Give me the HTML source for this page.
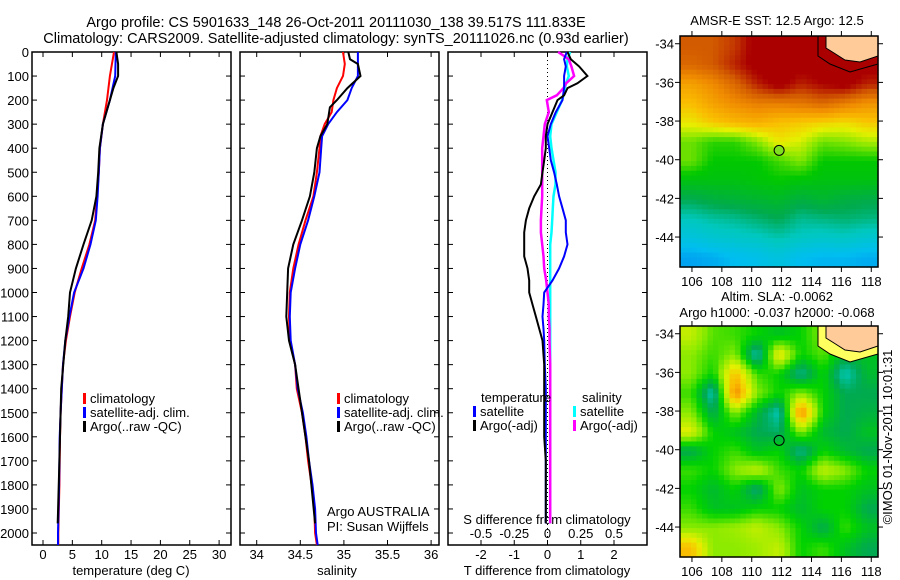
<!DOCTYPE html>
<html><head><meta charset="utf-8"><style>
body{margin:0;background:#fff;}
svg{display:block;font-family:"Liberation Sans",sans-serif;}
text{font-size:13px;fill:#000;}
</style></head><body>
<svg id="fig" width="900" height="580" viewBox="0 0 900 580" xmlns="http://www.w3.org/2000/svg">
<text x="336" y="27" text-anchor="middle" style="font-size:14.5px">Argo profile: CS 5901633_148 26-Oct-2011 20111030_138 39.517S 111.833E</text>
<text x="336" y="43" text-anchor="middle" style="font-size:14.5px">Climatology: CARS2009. Satellite-adjusted climatology: synTS_20111026.nc (0.93d earlier)</text>
<g id="g1"></g>
<g id="g2"></g>
<g id="g3"></g>
<g id="m1"></g>
<g id="m2"></g>
<text x="777" y="25" text-anchor="middle">AMSR-E SST: 12.5 Argo: 12.5</text>
<text x="777" y="301" text-anchor="middle">Altim. SLA: -0.0062</text>
<text x="777" y="317" text-anchor="middle">Argo h1000: -0.037 h2000: -0.068</text>
<text x="0" y="0" transform="translate(892,437) rotate(-90)" text-anchor="middle">©IMOS 01-Nov-2011 10:01:31</text>
</svg>
<script>
// ---- profile data ----
const depthsT = [0,100,200,300,400,500,600,700,800,900,1000,1100,1200,1300,1400,1500,1600,1800,2000,2050];
const climT   = [12.1,11.4,10.9,10.2,9.7,9.5,9.2,8.9,7.9,6.6,5.4,4.6,3.9,3.4,3.2,3.0,2.9,2.8,2.6,2.6];
const satT    = [12.4,12.3,11.4,10.2,9.7,9.5,9.3,9.0,8.1,6.9,5.3,4.5,3.8,3.4,3.2,3.0,2.85,2.75,2.55,2.55];
const depthsA = [0,50,100,150,200,300,400,500,600,700,800,900,1000,1100,1200,1400,1700,1960];
const argoT   = [12.5,12.8,12.8,12.0,11.4,10.2,9.6,9.4,9.1,8.3,6.9,5.6,4.6,4.3,3.8,3.1,2.8,2.5];
const depthsS = [0,50,100,150,200,250,300,350,400,500,600,700,800,900,1000,1100,1200,1300,1400,1500,1600,1700,1800,1900,2000,2050];
const climS   = [34.99,35.01,34.99,34.92,34.88,34.86,34.78,34.73,34.72,34.69,34.65,34.56,34.48,34.42,34.38,34.37,34.38,34.44,34.46,34.52,34.56,34.59,34.63,34.66,34.67,34.69];
const satS    = [35.16,35.16,35.16,35.09,35.04,34.92,34.82,34.75,34.74,34.72,34.66,34.59,34.50,34.44,34.39,34.38,34.39,34.44,34.47,34.53,34.57,34.60,34.64,34.67,34.68,34.70];
const depthsAS= [0,30,50,100,150,200,230,300,350,400,500,600,700,800,900,1000,1100,1200,1300,1500,1700,1960];
const argoS   = [35.05,35.07,35.16,35.19,35.04,34.92,34.84,34.81,34.73,34.69,34.66,34.61,34.52,34.42,34.36,34.35,34.34,34.37,34.44,34.52,34.60,34.67];
const depthsD = [0,30,60,100,130,150,180,200,250,300,350,400,450,500,550,600,650,700,750,800,850,900,950,1000,1050,1100,1150,1200,1300,1400,1600,1700,1900,1960];
const satDT   = [0.58,0.5,0.55,0.5,0.5,0.5,0.47,0.45,0.25,0.1,0,0.05,0.1,0.2,0.28,0.35,0.45,0.55,0.55,0.6,0.5,0.35,0.15,-0.1,-0.12,-0.15,-0.12,-0.1,-0.08,-0.05,-0.05,-0.05,-0.05,-0.05];
const argoDT  = [0.6,0.7,0.95,1.2,0.9,0.6,0.5,0.3,0.15,0,-0.05,-0.05,-0.1,-0.15,-0.2,-0.4,-0.55,-0.65,-0.7,-0.7,-0.7,-0.6,-0.55,-0.55,-0.45,-0.35,-0.25,-0.15,-0.1,-0.1,-0.1,-0.05,-0.05,-0.05];
const satDS   = [0.17,0.15,0.145,0.16,0.14,0.13,0.12,0.11,0.07,0.03,0.02,0.03,0.045,0.06,0.06,0.045,0.04,0.035,0.03,0.02,0.02,0.02,0.02,0.02,0.02,0.02,0.02,0.02,0.02,0.02,0.02,0.02,0.02,0.02];
const argoDS  = [0.08,0.16,0.18,0.2,0.14,0.12,0.07,-0.005,0.01,-0.02,-0.03,-0.04,-0.04,-0.04,-0.04,-0.04,-0.045,-0.05,-0.05,-0.04,-0.03,-0.025,-0.01,0,0.01,0.01,0.015,0.015,0.02,0.02,0.02,0.02,0.02,0.02];
const depthTicks = [0,100,200,300,400,500,600,700,800,900,1000,1100,1200,1300,1400,1500,1600,1700,1800,1900,2000];
const tTicks = [0,5,10,15,20,25,30];
const sTicks = [34,34.5,35,35.5,36];
const dTTicks = [-2,-1,0,1,2];
const dSTicks = [-0.5,-0.25,0,0.25,0.5];
// ---- map data ----
const mapLats = [-34,-35,-36,-37,-38,-39,-40,-41,-42,-43,-44,-45];
const sstGrid = [
[15,15,15.3,16,16,16,16,16,16],
[14.8,15,15.5,16,16,16,16,16,16],
[14,14.3,14.8,15.5,16,15.5,15.8,16,15.5],
[13.6,14,14.3,14.5,14.5,14.6,14.8,14.5,14.2],
[13.2,13.5,13.7,13.8,13.6,13.5,13.4,13.3,13.5],
[12.5,12.2,12.2,12.6,13.2,13,12.5,12.6,12.8],
[12.5,12,12,12,12.3,12.6,12,12,12],
[11.8,11.8,11.8,11.9,12,11.9,11.8,11.8,11.8],
[11,11.2,11.3,11.4,11.5,11.2,11.4,11.2,11.1],
[10.3,10.5,10.6,10.8,11,10.6,10.7,10.8,10.7],
[9.8,10,10.1,10.2,10.4,10.2,10.1,10.2,10],
[9.2,9.3,9.5,9.6,9.8,9.5,9.4,9.4,9.3]];
const slaGrid = [
[.08,.03,.02,0,-.02,0,.05,.05,.05],
[.05,.02,.05,-.1,.12,0,.03,-.03,-.02],
[.05,0,.15,.02,0,-.08,0,-.1,-.03],
[.02,-.1,.2,.05,0,.05,0,-.05,-.05],
[.05,-.05,.05,-.03,-.1,.2,0,-.05,-.04],
[.1,0,-.02,-.05,-.06,.05,-.03,-.05,-.02],
[-.05,0,.02,-.02,0,-.08,0,-.03,-.05],
[.02,0,.05,.08,.02,0,.08,.05,0],
[0,-.03,0,-.07,.05,-.02,0,0,-.02],
[.02,-.02,-.02,0,0,-.03,0,0,-.05],
[.05,.05,.06,.08,.05,0,-.05,.02,-.02],
[.15,.05,.05,.06,.08,0,.02,-.02,-.05]];
const lonTicks=[106,108,110,112,114,116,118];
const latTicks=[-34,-36,-38,-40,-42,-44];
const argoLon=111.833, argoLat=-39.517;

const NS="http://www.w3.org/2000/svg";
function mk(tag,attrs,parent,txt){const e=document.createElementNS(NS,tag);for(const k in attrs)e.setAttribute(k,attrs[k]);if(txt!==undefined)e.textContent=txt;parent.appendChild(e);return e;}

const yTop=52, yBot=545;
const yD = d => yTop + d*0.2405;

function panel(g,x0,x1,name){
  const r=mk('rect',{x:x0,y:yTop,width:x1-x0,height:yBot-yTop,fill:'none',stroke:'#000','stroke-width':1.5},g);
  
  
  depthTicks.forEach(d=>{
    mk('line',{x1:x0,x2:x0+5,y1:yD(d),y2:yD(d),stroke:'#000'},g);
    mk('line',{x1:x1,x2:x1-5,y1:yD(d),y2:yD(d),stroke:'#000'},g);
  });
}
function line(g,xs,ds,fx,col,w,name){
  const pts=xs.map((v,i)=>fx(v).toFixed(1)+','+yD(ds[i]).toFixed(1)).join(' ');
  const p=mk('polyline',{points:pts,fill:'none',stroke:col,'stroke-width':w},g);
  
  
}
function xticks(g,ticks,fx,yb,ylab,fmt,top){
  ticks.forEach(t=>{
    const x=fx(t);
    mk('line',{x1:x,x2:x,y1:yb,y2:yb-5,stroke:'#000'},g);
    if(top) mk('line',{x1:x,x2:x,y1:yTop,y2:yTop+5,stroke:'#000'},g);
    const tx=mk('text',{x:x,y:ylab,'text-anchor':'middle'},g,fmt(t));
    
    
  });
}
function legend(g,x,y0,items){
  items.forEach((it,i)=>{
    const y=y0+i*14;
    mk('rect',{x:x,y:y-10,width:3,height:11,fill:it[1]},g);
    const t=mk('text',{x:x+7,y:y},g,it[0]);
    
    
  });
}

// Panel 1 temperature
const g1=document.getElementById('g1');
const fT=t=>43+t*5.87;
panel(g1,32,231,'temperature');
depthTicks.forEach(d=>{const t=mk('text',{x:29,y:yD(d)+5,'text-anchor':'end'},g1,d);});
xticks(g1,tTicks,fT,yBot,559,t=>t,true);
const xt1=mk('text',{x:131,y:575,'text-anchor':'middle'},g1,'temperature (deg C)');

line(g1,climT,depthsT,fT,'#f00',2,'temp-climatology-line');
line(g1,satT,depthsT,fT,'#00f',2,'temp-satellite-line');
line(g1,argoT,depthsA,fT,'#000',2,'temp-argo-line');
legend(g1,83,403,[['climatology','#f00'],['satellite-adj. clim.','#00f'],['Argo(..raw -QC)','#000']]);

// Panel 2 salinity
const g2=document.getElementById('g2');
const fS=s=>256.7+(s-34)*87.2;
panel(g2,240,439,'salinity');
xticks(g2,sTicks,fS,yBot,559,t=>t,true);
const xt2=mk('text',{x:337,y:575,'text-anchor':'middle'},g2,'salinity');

line(g2,climS,depthsS,fS,'#f00',2,'sal-climatology-line');
line(g2,satS,depthsS,fS,'#00f',2,'sal-satellite-line');
line(g2,argoS,depthsAS,fS,'#000',2,'sal-argo-line');
legend(g2,337,403,[['climatology','#f00'],['satellite-adj. clim.','#00f'],['Argo(..raw -QC)','#000']]);
mk('text',{x:327,y:516},g2,'Argo AUSTRALIA');
mk('text',{x:327,y:531},g2,'PI: Susan Wijffels');

// Panel 3 differences
const g3=document.getElementById('g3');
const fDT=t=>547.5+t*33.25;
const fDS=s=>547.5+s*133;
panel(g3,448,647,'difference');
mk('line',{x1:fDT(0),x2:fDT(0),y1:yTop,y2:yBot,stroke:'#000','stroke-dasharray':'1,3'},g3);
xticks(g3,dTTicks,fDT,yBot,559,t=>t,true);
dSTicks.forEach(s=>{const t=mk('text',{x:fDS(s),y:538,'text-anchor':'middle'},g3,s);});
mk('text',{x:547,y:524,'text-anchor':'middle'},g3,'S difference from climatology');
mk('text',{x:547,y:575,'text-anchor':'middle'},g3,'T difference from climatology');
line(g3,satDS,depthsD,fDS,'#0ff',2.5,'sal-diff-satellite-line');
line(g3,argoDS,depthsD,fDS,'#f0f',2.5,'sal-diff-argo-line');
line(g3,satDT,depthsD,fDT,'#00f',2,'temp-diff-satellite-line');
line(g3,argoDT,depthsD,fDT,'#000',2,'temp-diff-argo-line');
mk('text',{x:481,y:402},g3,'temperature');
mk('text',{x:582,y:402},g3,'salinity');
legend(g3,473,416,[['satellite','#00f'],['Argo(-adj)','#000']]);
legend(g3,573,416,[['satellite','#0ff'],['Argo(-adj)','#f0f']]);

// ---- maps ----
function lerp(a,b,t){return Math.round(a+(b-a)*t);}
function cmap(v,stops){
  if(v<=stops[0][0])return 'rgb('+stops[0][1]+')';
  for(let i=1;i<stops.length;i++){if(v<=stops[i][0]){const a=stops[i-1],b=stops[i];const t=(v-a[0])/(b[0]-a[0]);return 'rgb('+[0,1,2].map(k=>lerp(a[1][k],b[1][k],t)).join(',')+')';}}
  return 'rgb('+stops[stops.length-1][1]+')';
}
const sstStops=[[8.5,[0,100,240]],[9.5,[0,190,240]],[10.3,[0,200,190]],[11,[0,170,80]],[12,[0,200,0]],[12.6,[130,230,0]],[13.1,[230,240,0]],[13.6,[250,190,0]],[14.3,[240,140,0]],[15,[210,90,0]],[15.8,[170,0,0]]];
const slaStops=[[-0.1,[0,200,190]],[-0.05,[0,170,80]],[0,[0,210,0]],[0.05,[140,235,0]],[0.1,[230,240,0]],[0.15,[250,190,0]],[0.2,[240,130,0]]];
function sample(grid,r,c){ // bilinear sample at fractional row/col
  const R=grid.length-1,C=grid[0].length-1;
  r=Math.max(0,Math.min(R,r));c=Math.max(0,Math.min(C,c));
  const r0=Math.floor(r),c0=Math.floor(c),r1=Math.min(R,r0+1),c1=Math.min(C,c0+1);
  const fr=r-r0,fc=c-c0;
  return grid[r0][c0]*(1-fr)*(1-fc)+grid[r0][c1]*(1-fr)*fc+grid[r1][c0]*fr*(1-fc)+grid[r1][c1]*fr*fc;
}
function map(gid,y0,y1,grid,stops,name){
  const g=document.getElementById(gid);
  const x0=680,x1=878;
  const lonA=105.2,lonB=118.45;
  const fx=l=>x0+(l-lonA)*(x1-x0)/(lonB-lonA);
  const latPx=(y1-y0)/11.95;
  const fy=la=>y0+(-33.6-la)*latPx;
  const nr=grid.length, nc=grid[0].length, sub=4;
  const cw=(x1-x0)/(nc*sub), ch=(y1-y0)/(nr*sub);
  for(let i=0;i<nr*sub;i++){
    for(let j=0;j<nc*sub;j++){
      const v=sample(grid,(i+0.5)/sub-0.5,(j+0.5)/sub-0.5);
      const c=mk('rect',{x:(x0+j*cw).toFixed(1),y:(y0+i*ch).toFixed(1),width:(cw+0.6).toFixed(1),height:(ch+0.6).toFixed(1),fill:cmap(v,stops)},g);
      
      
    }
  }
  const yo=y0;
  mk('path',{d:`M${818} ${yo} L818 ${yo+20} L830 ${yo+28} L850 ${yo+36} L878 ${yo+28} L878 ${yo} Z`,fill:stops===slaStops?'#ffff60':'#aa0000',stroke:'#000','stroke-width':1},g);
  const land=mk('path',{d:`M826 ${yo} L826 ${yo+12} L834 ${yo+17} L845 ${yo+24} L860 ${yo+26} L878 ${yo+20} L878 ${yo} Z`,fill:'#ffcc99',stroke:'#000','stroke-width':1},g);
  
  
  mk('rect',{x:x0,y:y0,width:x1-x0,height:y1-y0,fill:'none',stroke:'#000','stroke-width':1.5},g);
  lonTicks.forEach(l=>{const x=fx(l);mk('line',{x1:x,x2:x,y1:y1,y2:y1+5,stroke:'#000'},g);mk('line',{x1:x,x2:x,y1:y0,y2:y0-5,stroke:'#000'},g);
    const t=mk('text',{x:x,y:y1+19,'text-anchor':'middle'},g,l);});
  latTicks.forEach(la=>{const y=fy(la);mk('line',{x1:x0,x2:x0-5,y1:y,y2:y,stroke:'#000'},g);mk('line',{x1:x1,x2:x1+5,y1:y,y2:y,stroke:'#000'},g);
    const t=mk('text',{x:x0-6,y:y+5,'text-anchor':'end'},g,la);});
  const m=mk('circle',{cx:fx(argoLon),cy:fy(argoLat),r:5,fill:stops===sstStops?'#80e020':'none',stroke:'#000','stroke-width':1},g);
  
  
}
map('m1',36,267,sstGrid,sstStops,'sst');
map('m2',326,557,slaGrid,slaStops,'sla');
</script>
</body></html>
